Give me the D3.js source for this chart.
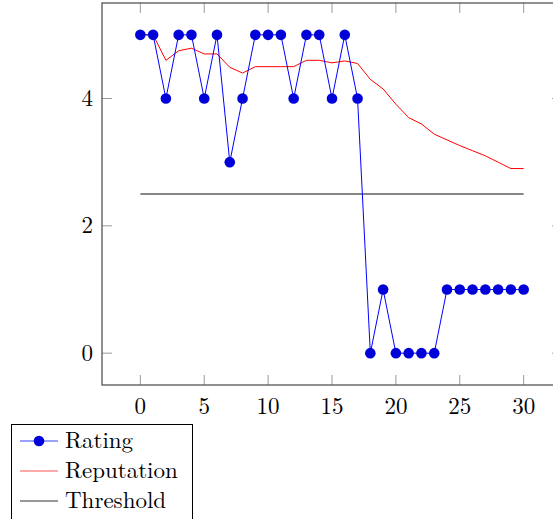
<!DOCTYPE html>
<html><head><meta charset="utf-8">
<script src="https://cdn.jsdelivr.net/npm/d3@7"></script>
<style>body{margin:0;background:#fff}svg{display:block}</style>
</head><body>
<script>
const steps = d3.range(0, 31);
const rating = [5,5,4,5,5,4,5,3,4,5,5,5,4,5,5,4,5,4,0,1,0,0,0,0,1,1,1,1,1,1,1];
const reputation = [5,5,4.6,4.75,4.79,4.7,4.7,4.49,4.4,4.5,4.5,4.5,4.5,4.6,4.6,4.56,4.59,4.55,4.3,4.15,3.91,3.7,3.6,3.44,3.35,3.26,3.18,3.1,3.0,2.9,2.9];
const threshold = [2.5, 2.5];
const thresholdX = [0, 30];
const xTicks = [0,5,10,15,20,25,30];
const yTicks = [0,2,4];
const seriesNames = ["Rating","Reputation","Threshold"];

const FONT = '"Latin Modern Roman"';
const FS = 23;
const W = 553, H = 519;
const svg = d3.select("body").append("svg").attr("width", W).attr("height", H);
const x = d3.scaleLinear().domain([-3, 33]).range([102, 562]);
const y = d3.scaleLinear().domain([-0.5, 5.5]).range([385, 3]);

// ticks
const tickLen = 10;
const tg = svg.append("g").attr("stroke", "#999").attr("stroke-width", 1);
xTicks.forEach(t => {
  tg.append("line").attr("x1", x(t)).attr("x2", x(t)).attr("y1", y(-0.5)).attr("y2", y(-0.5) - tickLen);
  tg.append("line").attr("x1", x(t)).attr("x2", x(t)).attr("y1", y(5.5)).attr("y2", y(5.5) + tickLen);
});
yTicks.forEach(t => {
  tg.append("line").attr("x1", x(-3)).attr("x2", x(-3) + tickLen).attr("y1", y(t)).attr("y2", y(t));
  tg.append("line").attr("x1", x(33)).attr("x2", x(33) - tickLen).attr("y1", y(t)).attr("y2", y(t));
});

// frame
svg.append("rect").attr("x", x(-3)).attr("y", y(5.5)).attr("width", x(33) - x(-3)).attr("height", y(-0.5) - y(5.5))
  .attr("fill", "none").attr("stroke", "#555").attr("stroke-width", 1.3);

// tick labels
svg.append("g").selectAll("text").data(xTicks).join("text")
  .attr("x", d => x(d)).attr("y", y(-0.5) + 29).attr("text-anchor", "middle")
  .style("font-family", FONT).style("font-size", FS + "px").text(d => d);
svg.append("g").selectAll("text").data(yTicks).join("text")
  .attr("x", x(-3) - 9).attr("y", d => y(d) + 7.5).attr("text-anchor", "end")
  .style("font-family", FONT).style("font-size", FS + "px").text(d => d);

const line = d3.line().x(d => x(d[0])).y(d => y(d[1]));
// threshold
svg.append("path").attr("d", line(thresholdX.map((v, i) => [v, threshold[i]])))
  .attr("fill", "none").attr("stroke", "#111").attr("stroke-width", 1.2);
// reputation
svg.append("path").attr("d", line(steps.map((s, i) => [s, reputation[i]])))
  .attr("fill", "none").attr("stroke", "#ff0000").attr("stroke-width", 1);
// rating
svg.append("path").attr("d", line(steps.map((s, i) => [s, rating[i]])))
  .attr("fill", "none").attr("stroke", "#0000ff").attr("stroke-width", 1);
svg.append("g").selectAll("circle").data(steps).join("circle")
  .attr("cx", d => x(d)).attr("cy", (d, i) => y(rating[i])).attr("r", 5.3)
  .attr("fill", "#0000d8");

// legend
const lg = svg.append("g");
lg.append("rect").attr("x", 11.5).attr("y", 424.5).attr("width", 181).attr("height", 110)
  .attr("fill", "#fff").attr("stroke", "#000").attr("stroke-width", 1);
const colors = ["#3344ff", "#ff5555", "#333"];
seriesNames.forEach((n, i) => {
  const cy = 441 + i * 30;
  lg.append("line").attr("x1", 20).attr("x2", 58).attr("y1", cy).attr("y2", cy)
    .attr("stroke", colors[i]).attr("stroke-width", 1);
  if (i === 0) lg.append("circle").attr("cx", 39).attr("cy", cy).attr("r", 5.3).attr("fill", "#0000d8");
  lg.append("text").attr("x", 65).attr("y", cy + 7).style("font-family", FONT).style("font-size", FS + "px").text(n);
});
</script>
</body></html>
